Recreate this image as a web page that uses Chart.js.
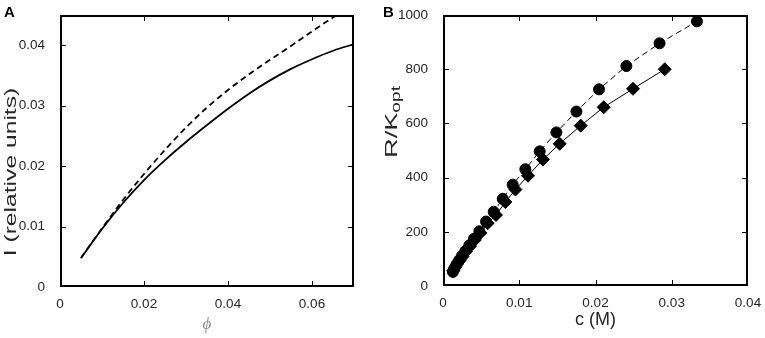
<!DOCTYPE html>
<html>
<head>
<meta charset="utf-8">
<script src="https://cdn.jsdelivr.net/npm/chart.js@4.4.1/dist/chart.umd.min.js"></script>
<style>
html, body { margin: 0; padding: 0; background: #fff; }
#wrap { position: relative; width: 765px; height: 338px; }
#chartA { position: absolute; left: 0; top: 0; }
#chartB { position: absolute; left: 382px; top: 0; }
</style>
</head>
<body>
<div id="wrap">
  <canvas id="chartA" width="382" height="338"></canvas>
  <canvas id="chartB" width="383" height="338"></canvas>
</div>
<script>
// panel A - I vs phi
var phi = [0.005, 0.01, 0.015, 0.02, 0.025, 0.03, 0.035, 0.04, 0.045, 0.05, 0.055, 0.06, 0.065, 0.07];
var intensitySolid = [0.0048, 0.0096, 0.0139, 0.0177, 0.0210, 0.0240, 0.0268, 0.0295, 0.0320, 0.0342, 0.0361, 0.0377, 0.0391, 0.0402];
var phiDashed = [0.005, 0.01, 0.015, 0.02, 0.025, 0.03, 0.035, 0.04, 0.045, 0.05, 0.055, 0.06, 0.065, 0.0665];
var intensityDashed = [0.0048, 0.0097, 0.0144, 0.0187, 0.0227, 0.0264, 0.0297, 0.0326, 0.0352, 0.0376, 0.0399, 0.0423, 0.0446, 0.0452];
var xTicksA = [0, 0.02, 0.04, 0.06];
var yTicksA = [0, 0.01, 0.02, 0.03, 0.04];

// panel B - R/Kopt vs c
var cCircle = [0.0013, 0.00153, 0.0018, 0.00212, 0.00249, 0.00293, 0.00345, 0.00406, 0.00477, 0.00565, 0.00665, 0.00783, 0.00914, 0.0108, 0.01268, 0.01487, 0.0175, 0.02046, 0.02405, 0.0284, 0.0333];
var rCircle = [52, 66, 80, 95, 111, 129, 150, 174, 202, 238, 274, 322, 374, 431, 497, 567, 644, 726, 812, 896, 977];
var cDiamond = [0.00134, 0.00157, 0.00185, 0.00218, 0.00256, 0.00301, 0.00354, 0.00417, 0.0049, 0.00586, 0.00695, 0.00818, 0.0095, 0.01115, 0.01311, 0.0153, 0.01806, 0.02108, 0.02492, 0.02908];
var rDiamond = [56, 69, 81, 94, 109, 127, 147, 170, 196, 232, 262, 310, 356, 407, 467, 525, 592, 660, 728, 800];
var xTicksB = [0, 0.01, 0.02, 0.03, 0.04];
var yTicksB = [0, 200, 400, 600, 800, 1000];

var TEXT = '#262626';
var SANS = "'Liberation Sans', Arial, sans-serif";

function pts(xs, ys) {
    return xs.map(function (x, i) { return {x: x, y: ys[i]}; });
}

function setTicks(list) {
    return function (scale) {
        scale.ticks = list.map(function (v) { return {value: v}; });
    };
}

// matlab style box with inward ticks
var boxPlugin = {
    id: 'frameBox',
    afterDraw: function (chart) {
        var ctx = chart.ctx, a = chart.chartArea;
        var L = Math.round(a.left), R = Math.round(a.right) - 2;
        var T = Math.round(a.top), B = Math.round(a.bottom) - 2;
        var xs = chart.scales.x, ys = chart.scales.y;
        ctx.save();
        ctx.fillStyle = '#000';
        ctx.fillRect(L, T, R - L + 2, 2);
        ctx.fillRect(L, B, R - L + 2, 2);
        ctx.fillRect(L, T, 2, B - T + 2);
        ctx.fillRect(R, T, 2, B - T + 2);
        xs.ticks.forEach(function (t) {
            var px = Math.min(R, Math.round(xs.getPixelForValue(t.value)));
            ctx.fillRect(px, B - 4, 1, 4);
            ctx.fillRect(px, T + 2, 1, 4);
        });
        ys.ticks.forEach(function (t) {
            var py = Math.min(B, Math.round(ys.getPixelForValue(t.value)));
            ctx.fillRect(L + 2, py, 4, 1);
            ctx.fillRect(R - 4, py, 4, 1);
        });
        ctx.restore();
    }
};

// rotated y title, stretched along the text like the reference
function drawYTitle(ctx, parts, cx, cy, stretch) {
    ctx.save();
    ctx.translate(cx, cy);
    ctx.rotate(-Math.PI / 2);
    ctx.scale(stretch, 1);
    ctx.fillStyle = TEXT;
    ctx.textBaseline = 'middle';
    var total = 0;
    parts.forEach(function (p) { ctx.font = p.font; total += ctx.measureText(p.text).width; });
    var x = -total / 2;
    parts.forEach(function (p) {
        ctx.font = p.font;
        ctx.fillText(p.text, x, p.dy);
        x += ctx.measureText(p.text).width;
    });
    ctx.restore();
}

function labelPlugin(letter, lx, parts, cx, cy, stretch) {
    return {
        id: 'labels' + letter,
        afterDraw: function (chart) {
            var ctx = chart.ctx;
            ctx.save();
            ctx.fillStyle = '#000';
            ctx.font = 'bold 15px ' + SANS;
            ctx.textBaseline = 'alphabetic';
            ctx.fillText(letter, lx, 17);
            ctx.restore();
            drawYTitle(ctx, parts, cx, cy, stretch);
        }
    };
}

function baseScales(xMin, xMax, yMin, yMax, xTicks, yTicks, xh, yw, xTitle) {
    var tickFont = {family: SANS, size: 13.5};
    return {
        x: {
            type: 'linear', min: xMin, max: xMax,
            grid: {display: false}, border: {display: false},
            afterBuildTicks: setTicks(xTicks),
            afterFit: function (s) { s.height = xh; },
            ticks: {color: TEXT, font: tickFont, padding: 1, maxRotation: 0,
                callback: function (v) { return String(v); }},
            title: xTitle
        },
        y: {
            type: 'linear', min: yMin, max: yMax,
            grid: {display: false}, border: {display: false},
            afterBuildTicks: setTicks(yTicks),
            afterFit: function (s) { s.width = yw; },
            ticks: {color: TEXT, font: tickFont, padding: 7,
                callback: function (v) { return String(v); }}
        }
    };
}

new Chart(document.getElementById('chartA'), {
    type: 'scatter',
    data: {
        datasets: [{
            data: pts(phi, intensitySolid),
            showLine: true, borderColor: '#000', borderWidth: 1.8,
            pointRadius: 0, cubicInterpolationMode: 'monotone'
        }, {
            data: pts(phiDashed, intensityDashed),
            showLine: true, borderColor: '#000', borderWidth: 1.8, borderDash: [6, 4],
            pointRadius: 0, cubicInterpolationMode: 'monotone'
        }]
    },
    options: {
        responsive: false,
        animation: false,
        events: [],
        layout: {padding: {top: 11, right: 28, left: 0, bottom: 0}},
        plugins: {legend: {display: false}, tooltip: {enabled: false}},
        scales: baseScales(0, 0.07, 0, 0.045, xTicksA, yTicksA, 51, 60, {
            display: true, text: 'ϕ', color: '#888',
            font: {family: "'Liberation Serif', serif", style: 'italic', size: 17},
            padding: {top: 0, bottom: 3}
        })
    },
    plugins: [boxPlugin, labelPlugin('A', 4,
        [{text: 'I (relative units)', font: '17px ' + SANS, dy: 0}], 11, 172, 1.45)]
});

new Chart(document.getElementById('chartB'), {
    type: 'scatter',
    data: {
        datasets: [{
            data: pts(cCircle, rCircle),
            showLine: true, borderColor: '#000', borderWidth: 1, borderDash: [6, 4],
            pointStyle: 'circle', pointRadius: 5.5,
            pointBackgroundColor: '#000', pointBorderColor: '#000'
        }, {
            data: pts(cDiamond, rDiamond),
            showLine: true, borderColor: '#000', borderWidth: 1,
            pointStyle: 'rectRot', pointRadius: 6.5,
            pointBackgroundColor: '#000', pointBorderColor: '#000'
        }]
    },
    options: {
        responsive: false,
        animation: false,
        events: [],
        layout: {padding: {top: 9, right: 17, left: 0, bottom: 0}},
        plugins: {legend: {display: false}, tooltip: {enabled: false}},
        scales: baseScales(0, 0.04, 0, 1000, xTicksB, yTicksB, 52, 61, {
            display: true, text: 'c (M)', color: TEXT,
            font: {family: SANS, size: 18},
            padding: {top: 0, bottom: 7}
        })
    },
    plugins: [boxPlugin, labelPlugin('B', 1,
        [{text: 'R/K', font: '17px ' + SANS, dy: 0},
         {text: 'opt', font: '12px ' + SANS, dy: 5}], 10, 122, 1.6)]
});
</script>
</body>
</html>
